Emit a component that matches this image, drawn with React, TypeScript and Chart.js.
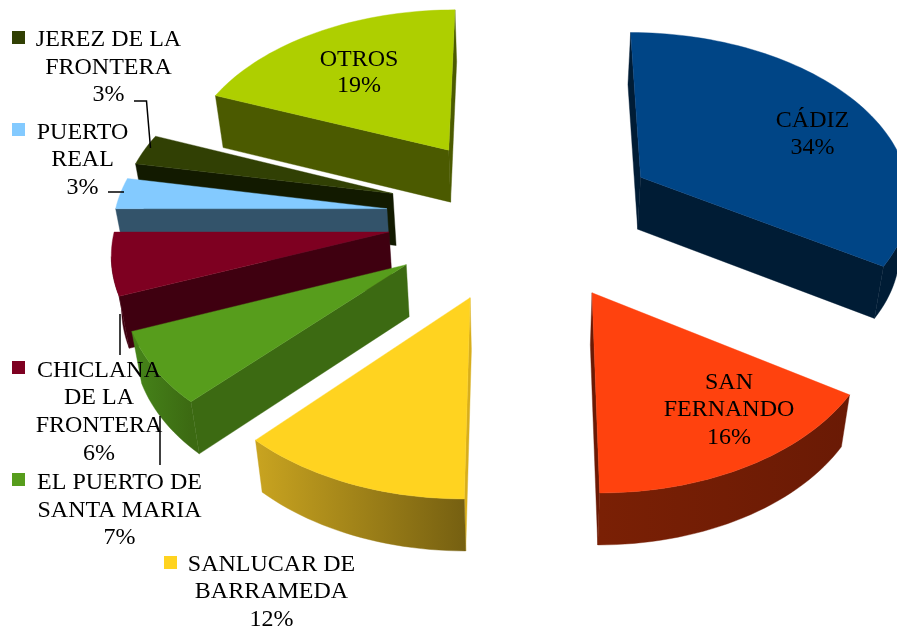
import { useEffect, useRef } from "react";
import { Chart, registerables } from "chart.js";

Chart.register(...registerables);

const categories = ["CÁDIZ", "SAN FERNANDO", "SANLUCAR DE BARRAMEDA", "EL PUERTO DE SANTA MARIA", "CHICLANA DE LA FRONTERA", "PUERTO REAL", "JEREZ DE LA FRONTERA", "OTROS"];
const shares = [34, 16, 12, 7, 6, 3, 3, 19];
const explode = [127, 127, 127, 127, 125, 127, 127, 127];
const topColors = ["#004586", "#ff420e", "#ffd320", "#579d1c", "#7e0021", "#83caff", "#314004", "#aecf00"];
const wallColors = ["#001c35", "#6a1a05", "#d8ae1c", "#3c6a12", "#3f0010", "#33536a", "#121a00", "#4b5a00"];
const rimStart = ["#001c35", "#7a2005", "#c9a420", "#46851a", "#3f0010", "#33536a", "#121a00", "#4b5a00"];
const rimEnd = ["#001c35", "#6a1a05", "#766011", "#3c6a12", "#3f0010", "#33536a", "#121a00", "#4b5a00"];
const paintOrder = [0, 7, 6, 5, 4, 3, 1, 2];

type Label = { lines: string[]; x: number; y: number[]; key?: [number, number] };
const labels: Label[] = [
  { lines: ["CÁDIZ", "34%"], x: 812.5, y: [127, 154] },
  { lines: ["OTROS", "19%"], x: 359, y: [66, 92] },
  { lines: ["SAN", "FERNANDO", "16%"], x: 729, y: [389, 416, 444] },
  { lines: ["SANLUCAR DE", "BARRAMEDA", "12%"], x: 271.5, y: [571, 598, 626], key: [164, 556] },
  { lines: ["EL PUERTO DE", "SANTA MARIA", "7%"], x: 119.5, y: [489, 517, 544], key: [12, 473] },
  { lines: ["CHICLANA", "DE LA", "FRONTERA", "6%"], x: 99, y: [377, 404, 432, 460], key: [12, 361] },
  { lines: ["PUERTO", "REAL", "3%"], x: 82.5, y: [139, 166, 194], key: [12, 123] },
  { lines: ["JEREZ DE LA", "FRONTERA", "3%"], x: 108.5, y: [46, 74, 101], key: [12, 31] },
];
const keyColorIndex = [0, 7, 1, 2, 3, 4, 5, 6];
const leaders: number[][][] = [
  [[134, 101], [146.5, 101], [150.5, 148]],
  [[108, 192], [124, 192]],
  [[120, 314], [120, 355]],
  [[160, 416], [160, 465]],
];

const CX = 523, CY = 216.5, SX = 272.5, SY = 165.5, K = 0.095, DEPTH = 52, SHRINK = 0.975;
const project = (X: number, Y: number) => {
  const p = 1 / (1 - K * Y);
  return { x: CX + SX * X * p, y: CY + SY * Y * p };
};
const drop = (q: { x: number; y: number }) => ({ x: CX + (q.x - CX) * SHRINK, y: q.y + DEPTH });

const poly = (ctx: CanvasRenderingContext2D, pts: { x: number; y: number }[], fill: string | CanvasGradient) => {
  ctx.beginPath();
  pts.forEach((q, i) => (i ? ctx.lineTo(q.x, q.y) : ctx.moveTo(q.x, q.y)));
  ctx.closePath();
  ctx.fillStyle = fill;
  ctx.fill();
  ctx.strokeStyle = fill;
  ctx.lineWidth = 0.4;
  ctx.stroke();
};

const pie3d = {
  id: "pie3d",
  beforeDatasetsDraw(chart: any) {
    const ctx: CanvasRenderingContext2D = chart.ctx;
    const arcs = chart.getDatasetMeta(0).data;
    for (const i of paintOrder) {
      const el = arcs[i];
      const R = el.outerRadius;
      const off = el.options.offset / R;
      const mid = (el.startAngle + el.endAngle) / 2;
      const ox = off * Math.cos(mid), oy = off * Math.sin(mid);
      const tip = project(ox, oy);
      const rim: { x: number; y: number }[] = [];
      const n = Math.max(4, Math.ceil((el.endAngle - el.startAngle) / 0.03));
      for (let s = 0; s <= n; s++) {
        const a = el.startAngle + ((el.endAngle - el.startAngle) * s) / n;
        rim.push(project(ox + Math.cos(a), oy + Math.sin(a)));
      }
      const first = rim[0], last = rim[rim.length - 1];
      // side walls that face the viewer (outline runs clockwise, so they run leftwards)
      if (first.x < tip.x) poly(ctx, [tip, first, drop(first), drop(tip)], wallColors[i]);
      if (tip.x < last.x) poly(ctx, [last, tip, drop(tip), drop(last)], wallColors[i]);
      let run: { x: number; y: number }[] = [];
      const flush = () => {
        if (run.length > 1) {
          const xs = run.map((q) => q.x);
          const g = ctx.createLinearGradient(Math.min(...xs), 0, Math.max(...xs), 0);
          g.addColorStop(0, rimStart[i]);
          g.addColorStop(1, rimEnd[i]);
          poly(ctx, [...run, ...run.map(drop).reverse()], g);
        }
        run = [];
      };
      for (let s = 0; s < rim.length - 1; s++) {
        if (rim[s + 1].x < rim[s].x) {
          if (!run.length) run.push(rim[s]);
          run.push(rim[s + 1]);
        } else flush();
      }
      flush();
      poly(ctx, [tip, ...rim], topColors[i]);
    }
    return false;
  },
  afterDraw(chart: any) {
    const ctx: CanvasRenderingContext2D = chart.ctx;
    ctx.strokeStyle = "#000";
    ctx.lineWidth = 1.5;
    for (const l of leaders) {
      ctx.beginPath();
      l.forEach(([x, y], i) => (i ? ctx.lineTo(x, y) : ctx.moveTo(x, y)));
      ctx.stroke();
    }
    ctx.font = "24px 'Liberation Serif'";
    ctx.textAlign = "center";
    ctx.textBaseline = "alphabetic";
    labels.forEach((lab, idx) => {
      if (lab.key) {
        ctx.fillStyle = topColors[keyColorIndex[idx]];
        ctx.fillRect(lab.key[0], lab.key[1], 13, 13);
      }
      ctx.fillStyle = "#000";
      lab.lines.forEach((t, j) => ctx.fillText(t, lab.x, lab.y[j]));
    });
  },
};

export default function App() {
  const ref = useRef<HTMLCanvasElement>(null);
  useEffect(() => {
    document.body.style.margin = "0";
    const chart = new Chart(ref.current!, {
      type: "pie",
      data: {
        labels: categories,
        datasets: [{ data: shares, offset: explode, hoverOffset: 0, borderWidth: 0, backgroundColor: topColors }],
      },
      options: {
        animation: false,
        responsive: false,
        plugins: { legend: { display: false }, tooltip: { enabled: false } },
      },
      plugins: [pie3d],
    } as any);
    return () => chart.destroy();
  }, []);
  return <canvas ref={ref} width={897} height={631} style={{ display: "block" }} />;
}
